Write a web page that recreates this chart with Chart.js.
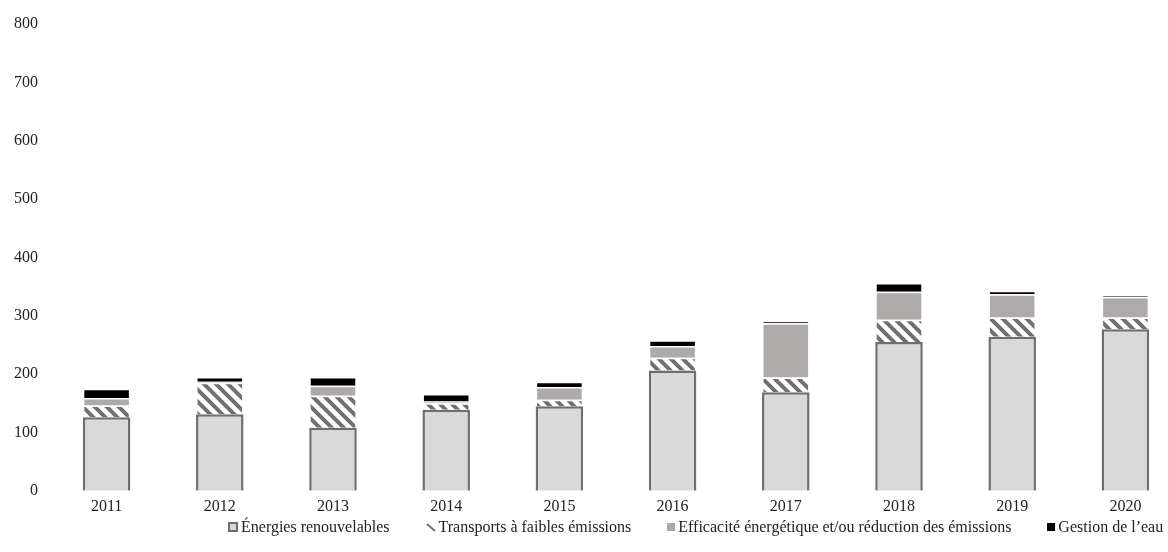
<!DOCTYPE html>
<html>
<head>
<meta charset="utf-8">
<script src="https://cdn.jsdelivr.net/npm/chart.js@4"></script>
<style>
  html, body { margin: 0; padding: 0; background: #fff; }
  #wrap { position: relative; width: 1168px; height: 552px; overflow: hidden; }
  #chartBox { position: absolute; left: 0; top: 0; width: 1182px; height: 522px; }
  #legend {
    position: absolute; left: 228px; top: 518px;
    display: flex; align-items: center; gap: 36px;
    font-family: "Liberation Serif", Tinos, "Times New Roman", "DejaVu Serif", serif; font-size: 16px; color: #222;
    white-space: nowrap;
  }
  .item { display: flex; align-items: center; }
  .mk { display: inline-block; margin-right: 3px; }
</style>
</head>
<body>
<div id="wrap">
  <div id="chartBox"><canvas id="chart"></canvas></div>
  <div id="legend">
    <span class="item"><span class="mk" style="width:6px;height:6px;background:#d9d9d9;border:2px solid #6e6e6e"></span>Énergies renouvelables</span>
    <span class="item"><svg class="mk" width="10" height="10"><line x1="1" y1="2" x2="9" y2="9" stroke="#707070" stroke-width="2"/></svg>Transports à faibles émissions</span>
    <span class="item"><span class="mk" style="width:8px;height:8px;background:#aeaaaa"></span>Efficacité énergétique et/ou réduction des émissions</span>
    <span class="item"><span class="mk" style="width:8px;height:8px;background:#000"></span>Gestion de l’eau</span>
  </div>
</div>
<script>
// years and series
const years = ["2011", "2012", "2013", "2014", "2015", "2016", "2017", "2018", "2019", "2020"];
const renewables = [126, 131, 108, 139, 145, 206, 169, 255, 264, 277];
const transport = [20, 54, 55, 11, 11, 22, 25, 38, 33, 20];
const efficiency = [13, 2, 17, 3, 22, 20, 93, 48, 40, 35];
const water = [16, 8, 15, 13, 9, 10, 4, 15, 6, 2];
const yTicks = [0, 100, 200, 300, 400, 500, 600, 700, 800];

// diagonal hatch for transports
function makeHatch() {
  const c = document.createElement("canvas");
  c.width = 12; c.height = 12;
  const g = c.getContext("2d");
  g.fillStyle = "#fff";
  g.fillRect(0, 0, 12, 12);
  g.strokeStyle = "#707070";
  g.lineWidth = 4;
  g.beginPath();
  g.moveTo(-3, -3); g.lineTo(15, 15);
  g.moveTo(-15, -3); g.lineTo(3, 15);
  g.moveTo(9, -3); g.lineTo(27, 15);
  g.stroke();
  return g.createPattern(c, "repeat");
}

const ctx = document.getElementById("chart").getContext("2d");
const font = { family: "'Liberation Serif', Tinos, 'Times New Roman', 'DejaVu Serif', serif", size: 16 };

new Chart(ctx, {
  type: "bar",
  data: {
    labels: years,
    datasets: [
      { label: "Énergies renouvelables", data: renewables, backgroundColor: "#d9d9d9", borderColor: "#6e6e6e", borderWidth: 2.5 },
      { label: "Transports à faibles émissions", data: transport, backgroundColor: makeHatch(), borderColor: "#fff", borderWidth: 1.5 },
      { label: "Efficacité énergétique et/ou réduction des émissions", data: efficiency, backgroundColor: "#aeaaaa", borderColor: "#fff", borderWidth: 1.5 },
      { label: "Gestion de l’eau", data: water, backgroundColor: "#000", borderColor: "#fff", borderWidth: 1.5 }
    ]
  },
  options: {
    responsive: true,
    maintainAspectRatio: false,
    animation: false,
    layout: { padding: { top: 24, left: 0, right: 0, bottom: 0 } },
    datasets: { bar: { categoryPercentage: 1, barPercentage: 0.42 } },
    scales: {
      x: {
        stacked: true,
        grid: { display: false, drawTicks: false },
        border: { display: false },
        ticks: { color: "#222", font: font, padding: 6 }
      },
      y: {
        stacked: true,
        min: 0,
        max: 800,
        grid: { display: false, drawTicks: false },
        border: { display: false },
        afterBuildTicks: axis => { axis.ticks = yTicks.map(v => ({ value: v })); },
        afterFit: axis => { axis.width = 50; },
        ticks: { color: "#222", font: font, padding: 12 }
      }
    },
    plugins: {
      legend: { display: false },
      tooltip: { enabled: false }
    }
  }
});
</script>
</body>
</html>
